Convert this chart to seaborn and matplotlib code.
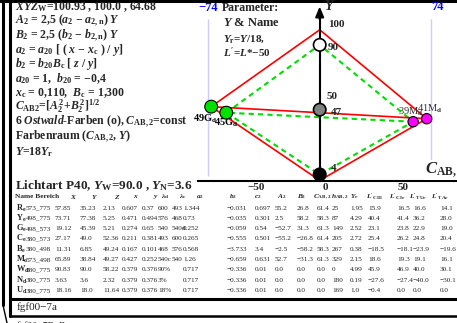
import matplotlib
matplotlib.use("Agg")
import matplotlib.pyplot as plt
import seaborn as sns
from matplotlib.lines import Line2D

# Ostwald-Farben im Farbraum (C_AB,2, Y)
chrom_names = [r"49G$_{\rm d}$", r"45G$_{\rm d}$", r"39M$_{\rm d}$", r"41M$_{\rm d}$"]
chrom_C = [-72, -62, 62, 71]
chrom_Y = [49, 45, 39, 41]
chrom_col = ["#00e000", "#00e000", "#ff00ff", "#ff00ff"]

# unbunte Farben auf der Y-Achse
ach_labels = ["90", "47", "4"]
ach_Y = [90, 47, 4]
ach_col = ["white", "#808080", "black"]

# Weiss/Schwarz: ideal (rot) und real (gruen)
ideal_WN = [100, 0]
real_WN = [90, 4]

# Grenzen C_AB,2 und Achsen-Ticks
c_limits = [-74, 74]
c_ticks = [-50, 50]
y_ticks = [100]

# Tabelle
row_labels = [r"$\mathrm{R}_{\mathrm{e}}$", r"$\mathrm{Y}_{\mathrm{e}}$", r"$\mathrm{G}_{\mathrm{e}}$",
              r"$\mathrm{C}_{\mathrm{e}}$", r"$\mathrm{B}_{\mathrm{e}}$", r"$\mathrm{M}_{\mathrm{o}}$",
              r"$\mathrm{W}_{\mathrm{d}}$", r"$\mathrm{N}_{\mathrm{d}}$", r"$\mathrm{U}_{\mathrm{d}}$"]
bereich = ["573_775", "498_775", "498_573", "380_573", "380_498", "573_498", "380_775", "380_775", "380_775"]
X_vals = ["57.85", "73.71", "19.12", "27.17", "11.31", "65.89", "90.83", "3.63", "18.16"]
Y_vals = ["35.23", "77.38", "45.39", "49.0", "6.85", "38.84", "90.0", "3.6", "18.0"]
Z_vals = ["2.13", "5.25", "5.21", "52.36", "49.24", "49.27", "58.22", "2.32", "11.64"]
x_vals = ["0.607", "0.471", "0.274", "0.211", "0.167", "0.427", "0.379", "0.379", "0.379"]
y_vals = ["0.37", "0.494", "0.65", "0.381", "0.101", "0.252", "0.376", "0.376", "0.376"]
ld_vals = ["600", "576", "540", "493", "468", "540c", "90%", "3%", "18%"]
lc_vals = ["493", "468", "540d", "600", "576", "540", "", "", ""]
a2_vals = ["1.344", "0.73", "0.252", "0.265", "0.568", "1.26", "0.717", "0.717", "0.717"]
b2_vals = ["−0.031", "−0.035", "−0.059", "−0.555", "−3.733", "−0.659", "−0.336", "−0.336", "−0.336"]
c2_vals = ["0.697", "0.301", "0.54", "0.501", "3.4", "0.631", "0.01", "0.01", "0.01"]
A2_vals = ["55.2", "2.5", "−52.7", "−55.2", "−2.5", "52.7", "0.0", "0.0", "0.0"]
B2_vals = ["26.8", "58.2", "31.3", "−26.8", "−58.2", "−31.3", "0.0", "0.0", "0.0"]
CAB_vals = ["61.4", "58.3", "61.3", "61.4", "58.3", "61.3", "0.0", "0.0", "0.0"]
hAB_vals = ["25", "87", "149", "205", "267", "329", "0", "180", "169"]
Yr_vals = ["1.95", "4.29", "2.52", "2.72", "0.38", "2.15", "4.99", "0.19", "1.0"]
LCIE_vals = ["15.9", "40.4", "23.1", "25.4", "−18.5", "18.6", "45.9", "−27.6", "−0.4"]
LCIr_vals = ["16.5", "41.4", "23.8", "26.2", "−18.1", "19.3", "46.9", "−27.4", "0.0"]
LTUr_vals = ["16.6", "36.2", "22.9", "24.8", "−23.9", "19.1", "40.0", "−40.0", "0.0"]
LTAr_vals = ["14.1", "28.0", "19.0", "20.4", "−19.6", "16.1", "30.1", "−30.1", "0.0"]
header = ["Name Bereich", r"$X$", r"$Y$", r"$Z$", r"$x$", r"$y$", r"$\lambda_{\rm d}$", r"$\lambda_{\rm c}$",
          r"$a_2$", r"$b_2$", r"$c_2$", r"$A_2$", r"$B_2$", r"$C_{\rm AB,2}$", r"$h_{\rm AB,2}$",
          r"$Y_{\rm r}$", r"$L'_{\rm CIE}$", r"$L'_{\rm CIr}$", r"$L'_{\rm TUr}$", r"$L'_{\rm TAr}$"]

sns.set_style("white")
plt.rcParams["font.family"] = ["Liberation Serif", "DejaVu Serif"]
plt.rcParams["mathtext.fontset"] = "custom"
plt.rcParams["mathtext.rm"] = "Liberation Serif:bold"
plt.rcParams["mathtext.it"] = "Liberation Serif:bold:italic"
plt.rcParams["mathtext.bf"] = "Liberation Serif:bold"

W, H = 457, 323
fig = plt.figure(figsize=(W / 100, H / 100), dpi=100)


def ftxt(x, y, s, **kw):
    kw.setdefault("va", "center")
    kw.setdefault("ha", "left")
    fig.text(x / W, 1 - y / H, s, **kw)


# Diagramm
s = 1.507  # px je Einheit
ax = fig.add_axes([198 / W, 1 - 181 / H, 259 / W, 181 / H])
ax.patch.set_alpha(0)
ax.set_xlim((198 - 319.7) / s, (457 - 319.7) / s)
ax.set_ylim((180.5 - 181) / s, 180.5 / s)

for c in c_limits:
    sns.lineplot(x=[c, c], y=[3, 107], color="#0000ff", lw=1.5, ls=(0, (4, 2.5)), ax=ax)

# gruen: reale Ostwald-Dreiecke
g_C = [chrom_C[1], 0, chrom_C[2], 0, chrom_C[1], chrom_C[2]]
g_Y = [chrom_Y[1], real_WN[0], chrom_Y[2], real_WN[1], chrom_Y[1], chrom_Y[2]]
sns.lineplot(x=g_C, y=g_Y, sort=False, estimator=None, color="#00dd00", lw=1.5,
             ls=(0, (2.5, 2)), ax=ax)
# rot: ideale Ostwald-Dreiecke
r_C = [chrom_C[0], 0, chrom_C[3], 0, chrom_C[0], chrom_C[3]]
r_Y = [chrom_Y[0], ideal_WN[0], chrom_Y[3], ideal_WN[1], chrom_Y[0], chrom_Y[3]]
sns.lineplot(x=r_C, y=r_Y, sort=False, estimator=None, color="red", lw=1.2, ax=ax)

sns.scatterplot(x=chrom_C, y=chrom_Y, hue=chrom_names, palette=chrom_col, s=[85, 85, 55, 55],
                edgecolor="black", linewidth=0.8, legend=False, zorder=5, ax=ax)
sns.scatterplot(x=[0] * len(ach_Y), y=ach_Y, hue=ach_labels, palette=ach_col, s=80,
                edgecolor="black", linewidth=1.2, legend=False, zorder=5, ax=ax)

for sp in ["top", "right"]:
    ax.spines[sp].set_visible(False)
ax.spines["left"].set_position(("data", 0))
ax.spines["bottom"].set_position(("data", 0))
ax.spines["left"].set_bounds(0, 109)
for sp in ["left", "bottom"]:
    ax.spines[sp].set_linewidth(1.5)
    ax.spines[sp].set_color("black")
ax.set_xticks(c_ticks)
ax.set_yticks(y_ticks)
ax.tick_params(axis="x", direction="inout", length=8.5, width=1.5, labelbottom=False)
ax.tick_params(axis="y", direction="inout", length=7, width=1.5, labelleft=False)
ax.set_xlabel("")
ax.set_ylabel("")
ax.annotate("", xy=(0, 115.5), xytext=(0, 107),
            arrowprops=dict(arrowstyle="-|>,head_length=0.6,head_width=0.25", color="black",
                            lw=1.5, shrinkA=0, shrinkB=0))

lbl = dict(fontsize=8, fontweight="bold", textcoords="offset points")
for c in c_ticks:
    ax.annotate("−50" if c < 0 else "50", (c, 0), xytext=(2, -5), ha="left", va="center", **lbl)
ax.annotate("0", (0, 0), xytext=(2, -5), ha="left", va="center", **lbl)
ax.annotate("100", (0, 100), xytext=(6, 4), ha="left", va="center", **lbl)
ax.annotate("50", (0, 50), xytext=(5, 6), ha="left", va="center", **lbl)
for lab, yv, off in zip(ach_labels, ach_Y, [(6, -2), (8, -2), (8, 4)]):
    ax.annotate(lab, (0, yv), xytext=off, ha="left", va="center", **lbl)
for nm, cv, yv, off in zip(chrom_names, chrom_C, chrom_Y, [(-4, -9), (0, -7), (-2, 7), (2, 7)]):
    ax.annotate(nm, (cv, yv), xytext=off, ha="center", va="center", fontsize=7.5,
                fontweight="bold" if "G" in nm else "normal",
                color="black" if "G" in nm else "#333333", textcoords="offset points")

# Texte links
bold = dict(fontsize=8.5, fontweight="bold")
ftxt(15, 7, r"$XYZ_{\rm W}$=100.93 , 100.0 , 64.68", **bold)
ftxt(15, 21, r"$A_2$ = 2,5 ($a_2$ − $a_{\rm 2,n}$) $Y$", **bold)
ftxt(15, 35.5, r"$B_2$ = 2,5 ($b_2$ − $b_{\rm 2,n}$) $Y$", **bold)
ftxt(15, 50, r"$a_2$ = $a_{20}$ [ ( $x$ − $x_{\rm c}$ ) / $y$]", **bold)
ftxt(15, 64.5, r"$b_2$ = $b_{20}B_{\rm c}$ [ $z$ / $y$]", **bold)
ftxt(15, 79, r"$a_{20}$ = 1,  $b_{20}$ = −0,4", **bold)
ftxt(15, 93, r"$x_{\rm c}$ = 0,110,  $B_{\rm c}$ = 1,300", **bold)
ftxt(15, 106, r"$C_{\rm AB2}$=[$A_2^{\,2}$+$B_2^{\,2}$$]^{1/2}$", **bold)
ftxt(15, 122, r"6 $Ostwald$-Farben (o), $C_{\rm AB,2}$=const", **bold)
ftxt(15, 137, r"Farbenraum ($C_{\rm AB,2}$, $Y$)", **bold)
ftxt(15, 152, r"$Y$=18$Y_{\rm r}$", **bold)
ftxt(15, 186, r"Lichtart P40, $Y_{\rm W}$=90.0 , $Y_{\rm N}$=3.6", fontsize=9.5, fontweight="bold")

# Parameter-Block
ftxt(208, 8, "−74", color="#0000ff", fontsize=9, fontweight="bold", ha="center")
ftxt(437, 7, "74", color="#0000ff", fontsize=9, fontweight="bold", ha="center")
ftxt(222, 8, "Parameter:", **bold)
ftxt(223, 23, r"$Y$ & Name", fontsize=9, fontweight="bold")
ftxt(223, 39, r"$Y_{\rm r}$=$Y$/18,", fontsize=8, fontweight="bold")
ftxt(223, 53, r"$L'$=$L$*−50", fontsize=8, fontweight="bold")
ftxt(324, 6, r"$Y$", fontsize=10)
fig.text(425 / W, 1 - 170 / H, r"$C_{\rm AB,2}$", fontsize=12, va="center", ha="left",
         bbox=dict(facecolor="white", edgecolor="none", pad=0.5))

# Tabelle
hx = [15, 70, 91, 114, 133, 153, 161, 179, 196, 229, 254, 277, 297, 313, 331, 350, 366, 389, 409, 431]
for xx, hs in zip(hx, header):
    ftxt(xx, 197, hs, fontsize=5.3, fontweight="bold")
cols = [bereich, X_vals, Y_vals, Z_vals, x_vals, y_vals, ld_vals, lc_vals, a2_vals, b2_vals, c2_vals,
        A2_vals, B2_vals, CAB_vals, hAB_vals, Yr_vals, LCIE_vals, LCIr_vals, LTUr_vals, LTAr_vals]
cx = [26, 55, 80, 103, 122, 142, 158, 172, 183, 227, 255, 275, 297, 317, 332, 350, 368, 397, 413, 440]
for i, rl in enumerate(row_labels):
    yy = 208 + i * 10.3
    ftxt(15.5, yy, rl, fontsize=6)
    for xx, col in zip(cx, cols):
        ftxt(xx, yy, col[i], fontsize=5.2)

ftxt(17, 307, "fgf00−7a", fontsize=8)
ftxt(17, 326, "fgf00−7B_B", fontsize=7)

# Rahmen
def fline(xs, ys, lw):
    fig.add_artist(Line2D([x / W for x in xs], [1 - y / H for y in ys], color="black", lw=lw,
                          transform=fig.transFigure))

fline([0, W], [1.2, 1.2], 2.2)
fline([3, 3], [0, 305], 2.2)
fline([9.5, 9.5], [0, 316], 2.2)
fline([9.5, W], [299, 299], 2.2)
fline([9.5, W], [315.5, 315.5], 1.8)
fline([3, 7], [305, 323], 1)

fig.savefig("out.png", dpi=100)
